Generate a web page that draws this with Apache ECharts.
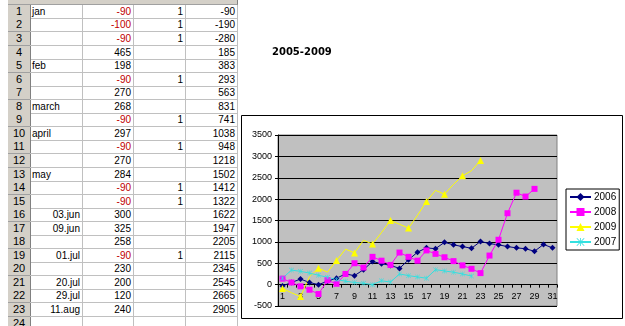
<!DOCTYPE html>
<html>
<head>
<meta charset="utf-8">
<script src="https://cdn.jsdelivr.net/npm/echarts@6/dist/echarts.min.js"></script>
<style>
  html, body { margin: 0; padding: 0; background: #fff; }
  #chart { position: absolute; left: 0; top: 0; width: 625px; height: 326px; }
  #sheet { position: absolute; left: 0; top: 0; width: 238px; height: 326px; overflow: hidden;
           font-family: 'Liberation Sans', Arial, sans-serif; font-size: 10px; }
  .cell { position: absolute; box-sizing: border-box; height: 14px; line-height: 13px;
          border-right: 1px solid #c0c0c0; border-bottom: 1px solid #c0c0c0; white-space: nowrap; padding: 0 2px; }
  .rowhead { background: #d4d0c8; border-right: 1px solid #808080; border-bottom: 1px solid #a0a0a0; text-align: center; font-size: 11px; }
  .num { text-align: right; }
  .neg { color: #c00000; }
</style>
</head>
<body>
<div id="sheet"></div>
<div id="chart"></div>
<script>
// spreadsheet columns (rows 1..23)
const monthLabels = ['jan', '', '', '', 'feb', '', '', 'march', '', 'april', '', '', 'may', '', '',
  '03.jun', '09.jun', '', '01.jul', '', '20.jul', '29.jul', '11.aug']
const amounts = [-90, -100, -90, 465, 198, -90, 270, 268, -90, 297, -90, 270, 284, -90, -90,
  300, 325, 258, -90, 230, 200, 120, 240]
const flags = [1, 1, 1, null, null, 1, null, null, 1, null, 1, null, null, 1, 1,
  null, null, null, 1, null, null, null, null]
const cumulative = [-90, -190, -280, 185, 383, 293, 563, 831, 741, 1038, 948, 1218, 1502, 1412, 1322,
  1622, 1947, 2205, 2115, 2345, 2545, 2665, 2905]

// chart
const categories = ['1', '2', '3', '4', '5', '6', '7', '8', '9', '10', '11', '12', '13', '14', '15', '16',
  '17', '18', '19', '20', '21', '22', '23', '24', '25', '26', '27', '28', '29', '30', '31']
const data2006 = [-30, 50, 130, 50, 0, 80, 150, 250, 210, 350, 540, 490, 450, 380, 580, 760,
  860, 840, 990, 930, 890, 850, 1010, 960, 930, 890, 860, 840, 780, 940, 860]
const data2008 = [140, 50, -40, -120, -220, 100, 20, 250, 500, 400, 650, 560, 460, 750, 650, 560,
  800, 720, 640, 550, 450, 370, 270, 680, 1050, 1670, 2150, 2060, 2240]
const data2009 = cumulative
const data2007 = [150, 340, 310, 270, 220, 170, 120, 80, 50, 30, 0, 90, 60, 250, 210, 180,
  150, 350, 320, 290, 250, 200]
const yTicks = { min: -500, max: 3500, step: 500 }

// --- draw the sheet part ---
const sheet = document.getElementById('sheet')
const rowTop = 4.9
const rowH = 13.55
const cols = [8, 30, 82, 133, 185, 237] // column edges: row header, A, B, C, D

function addCell(x0, x1, y, text, cls) {
  const d = document.createElement('div')
  d.className = 'cell ' + (cls || '')
  d.style.left = x0 + 'px'
  d.style.width = (x1 - x0 + 1) + 'px'
  d.style.top = y + 'px'
  d.style.height = (rowH + 0.5) + 'px'
  d.textContent = text
  sheet.appendChild(d)
}

// column header strip (cut off at the top)
addCell(cols[0], cols[5], rowTop - rowH, '', 'rowhead')

for (let i = 0; i < 24; i++) {
  const y = rowTop + i * rowH
  addCell(cols[0], cols[1], y, String(i + 1), 'rowhead')
  if (i >= amounts.length) {
    addCell(cols[1], cols[2], y, '')
    addCell(cols[2], cols[3], y, '')
    addCell(cols[3], cols[4], y, '')
    addCell(cols[4], cols[5], y, '')
    continue
  }
  const lbl = monthLabels[i]
  addCell(cols[1], cols[2], y, lbl, lbl.indexOf('.') > 0 ? 'num' : '')
  addCell(cols[2], cols[3], y, String(amounts[i]), amounts[i] < 0 ? 'num neg' : 'num')
  addCell(cols[3], cols[4], y, flags[i] == null ? '' : String(flags[i]), 'num')
  addCell(cols[4], cols[5], y, String(cumulative[i]), 'num')
}

// --- chart ---
const myChart = echarts.init(document.getElementById('chart'))

const starPath = 'path://M4.5,0h1v10h-1z M0,0.7L0.7,0L10,9.3L9.3,10z M9.3,0L10,0.7L0.7,10L0,9.3z'
const gridH = 171
// the category axis sits on the zero line like in excel
const zeroOffset = -gridH * (0 - yTicks.min) / (yTicks.max - yTicks.min)

const option = {
  animation: false,
  textStyle: { fontFamily: 'Liberation Sans, Arial, sans-serif' },
  title: {
    text: '2005-2009',
    left: 267,
    top: 42,
    textStyle: { fontFamily: 'DejaVu Sans', fontSize: 10, fontWeight: 'bold', color: '#000' },
  },
  graphic: [
    {
      type: 'rect',
      z: -10,
      shape: { x: 241.5, y: 115.5, width: 381, height: 203 },
      style: { fill: '#fff', stroke: '#000', lineWidth: 1 },
    },
  ],
  legend: {
    orient: 'vertical',
    left: 566,
    top: 189,
    padding: [3, 3, 3, 3],
    itemGap: 5,
    itemWidth: 21,
    itemHeight: 10,
    borderColor: '#000',
    borderWidth: 1,
    textStyle: { fontSize: 10, color: '#000', padding: [0, 0, 0, -2] },
    data: ['2006', '2008', '2009', '2007'],
  },
  grid: {
    show: true,
    left: 278,
    top: 135,
    width: 279,
    height: gridH,
    backgroundColor: '#c0c0c0',
    borderColor: '#808080',
    borderWidth: 1,
  },
  xAxis: {
    type: 'category',
    data: categories,
    boundaryGap: true,
    offset: zeroOffset,
    axisLine: { onZero: false, lineStyle: { color: '#000', width: 1 } },
    axisTick: { show: true, interval: 0, length: 3, lineStyle: { color: '#000' } },
    axisLabel: { interval: 1, fontSize: 9, color: '#000', margin: 7 },
    splitLine: { show: false },
  },
  yAxis: {
    type: 'value',
    min: yTicks.min,
    max: yTicks.max,
    interval: yTicks.step,
    axisLine: { show: true, lineStyle: { color: '#000', width: 1 } },
    axisTick: { show: true, length: 3, lineStyle: { color: '#000' } },
    axisLabel: { fontSize: 9, color: '#000', margin: 6, formatter: (v) => String(v) },
    splitLine: { show: true, lineStyle: { color: '#000', width: 1 } },
  },
  series: [
    {
      name: '2006',
      type: 'line',
      data: data2006,
      color: '#000080',
      symbol: 'diamond',
      symbolSize: 6,
      lineStyle: { width: 1 },
    },
    {
      name: '2008',
      type: 'line',
      data: data2008,
      color: '#ff00ff',
      symbol: 'rect',
      symbolSize: 6,
      lineStyle: { width: 1 },
    },
    {
      name: '2009',
      type: 'line',
      data: data2009,
      color: '#ffff00',
      symbol: 'triangle',
      symbolSize: 7,
      lineStyle: { width: 1 },
    },
    {
      name: '2007',
      type: 'line',
      data: data2007,
      color: '#33e0e0',
      symbol: starPath,
      symbolSize: 5,
      lineStyle: { width: 1 },
    },
  ],
}
myChart.setOption(option)
</script>
</body>
</html>
